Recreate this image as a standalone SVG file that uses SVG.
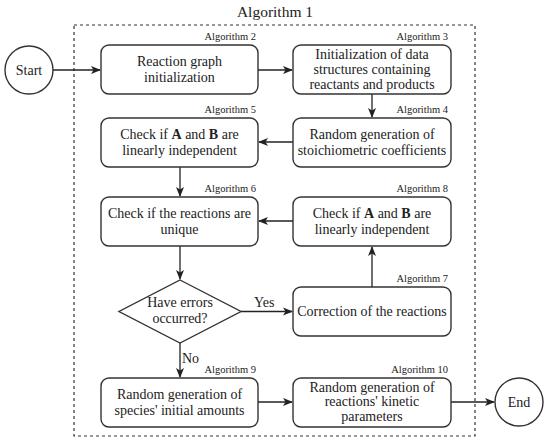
<svg xmlns="http://www.w3.org/2000/svg" width="550" height="444" viewBox="0 0 550 444">
<defs>
<marker id="ah" markerWidth="10" markerHeight="10" refX="9" refY="5" orient="auto" markerUnits="userSpaceOnUse">
<path d="M0,1 L10,5 L0,9 L2.5,5 Z" fill="#222"/>
</marker>
<style>
.box{fill:#fff;stroke:#333;stroke-width:1.4}
.t{font-family:"Liberation Serif",serif;font-size:14px;fill:#222;text-anchor:middle}
.a{font-family:"Liberation Serif",serif;font-size:10.5px;fill:#222;text-anchor:end}
.c line,.c path{stroke:#222;stroke-width:1.3;fill:none;marker-end:url(#ah)}
.lbl{font-family:"Liberation Serif",serif;font-size:14px;fill:#222}
</style>
</defs>
<rect width="550" height="444" fill="#fff"/>
<text x="275" y="17" font-family="Liberation Serif, serif" font-size="15.5" fill="#222" text-anchor="middle">Algorithm 1</text>
<rect x="74" y="25" width="401" height="411" fill="none" stroke="#333" stroke-width="1.2" stroke-dasharray="3,3"/>

<g class="c" id="connectors">
<line x1="53" y1="70" x2="100" y2="70"/>
<line x1="258" y1="70" x2="292" y2="70"/>
<line x1="372" y1="94" x2="372" y2="117"/>
<line x1="293" y1="142" x2="259" y2="142"/>
<line x1="180" y1="167" x2="180" y2="196"/>
<line x1="293" y1="221" x2="259" y2="221"/>
<line x1="180" y1="246" x2="180" y2="279"/>
<line x1="241" y1="311.5" x2="292" y2="311.5"/>
<line x1="372" y1="287" x2="372" y2="247"/>
<line x1="180" y1="343" x2="180" y2="377"/>
<line x1="258" y1="402" x2="292" y2="402"/>
<line x1="451" y1="402" x2="494" y2="402"/>
<text class="lbl" x="254" y="307">Yes</text>
<text class="lbl" x="182" y="363">No</text>
</g>

<g id="start">
<circle class="box" cx="29" cy="70" r="24"/>
<text class="t" x="29" y="75">Start</text>
</g>
<g id="alg2">
<rect class="box" x="101" y="45" width="157" height="49" rx="8"/>
<text class="a" x="256" y="40">Algorithm 2</text>
<text class="t" x="179.5" y="66">Reaction graph</text>
<text class="t" x="179.5" y="82">initialization</text>
</g>
<g id="alg3">
<rect class="box" x="293" y="45" width="158" height="49" rx="8"/>
<text class="a" x="448" y="40">Algorithm 3</text>
<text class="t" x="372" y="59">Initialization of data</text>
<text class="t" x="372" y="74">structures containing</text>
<text class="t" x="372" y="88.5">reactants and products</text>
</g>
<g id="alg4">
<rect class="box" x="293" y="118" width="158" height="49" rx="8"/>
<text class="a" x="448" y="113">Algorithm 4</text>
<text class="t" x="372" y="139">Random generation of</text>
<text class="t" x="372" y="155">stoichiometric coefficients</text>
</g>
<g id="alg5">
<rect class="box" x="101" y="118" width="157" height="49" rx="8"/>
<text class="a" x="256" y="113">Algorithm 5</text>
<text class="t" x="179.5" y="139">Check if <tspan font-weight="bold">A</tspan> and <tspan font-weight="bold">B</tspan> are</text>
<text class="t" x="179.5" y="155">linearly independent</text>
</g>
<g id="alg6">
<rect class="box" x="101" y="197" width="157" height="49" rx="8"/>
<text class="a" x="256" y="192">Algorithm 6</text>
<text class="t" x="179.5" y="218">Check if the reactions are</text>
<text class="t" x="179.5" y="234">unique</text>
</g>
<g id="alg8">
<rect class="box" x="293" y="197" width="158" height="49" rx="8"/>
<text class="a" x="448" y="192">Algorithm 8</text>
<text class="t" x="372" y="218">Check if <tspan font-weight="bold">A</tspan> and <tspan font-weight="bold">B</tspan> are</text>
<text class="t" x="372" y="234">linearly independent</text>
</g>
<g id="decision">
<path class="box" d="M180,280 L241,311.5 L180,343 L119,311.5 Z"/>
<text class="t" x="180" y="307">Have errors</text>
<text class="t" x="180" y="322.5">occurred?</text>
</g>
<g id="alg7">
<rect class="box" x="293" y="287" width="158" height="49" rx="8"/>
<text class="a" x="448" y="282">Algorithm 7</text>
<text class="t" x="372" y="316">Correction of the reactions</text>
</g>
<g id="alg9">
<rect class="box" x="101" y="378" width="157" height="49" rx="8"/>
<text class="a" x="256" y="373">Algorithm 9</text>
<text class="t" x="179.5" y="399">Random generation of</text>
<text class="t" x="179.5" y="415">species' initial amounts</text>
</g>
<g id="alg10">
<rect class="box" x="293" y="378" width="158" height="49" rx="8"/>
<text class="a" x="448" y="373">Algorithm 10</text>
<text class="t" x="372" y="391.5">Random generation of</text>
<text class="t" x="372" y="406">reactions' kinetic</text>
<text class="t" x="372" y="420.5">parameters</text>
</g>
<g id="end">
<circle class="box" cx="519" cy="402" r="24"/>
<text class="t" x="519" y="407">End</text>
</g>
</svg>
